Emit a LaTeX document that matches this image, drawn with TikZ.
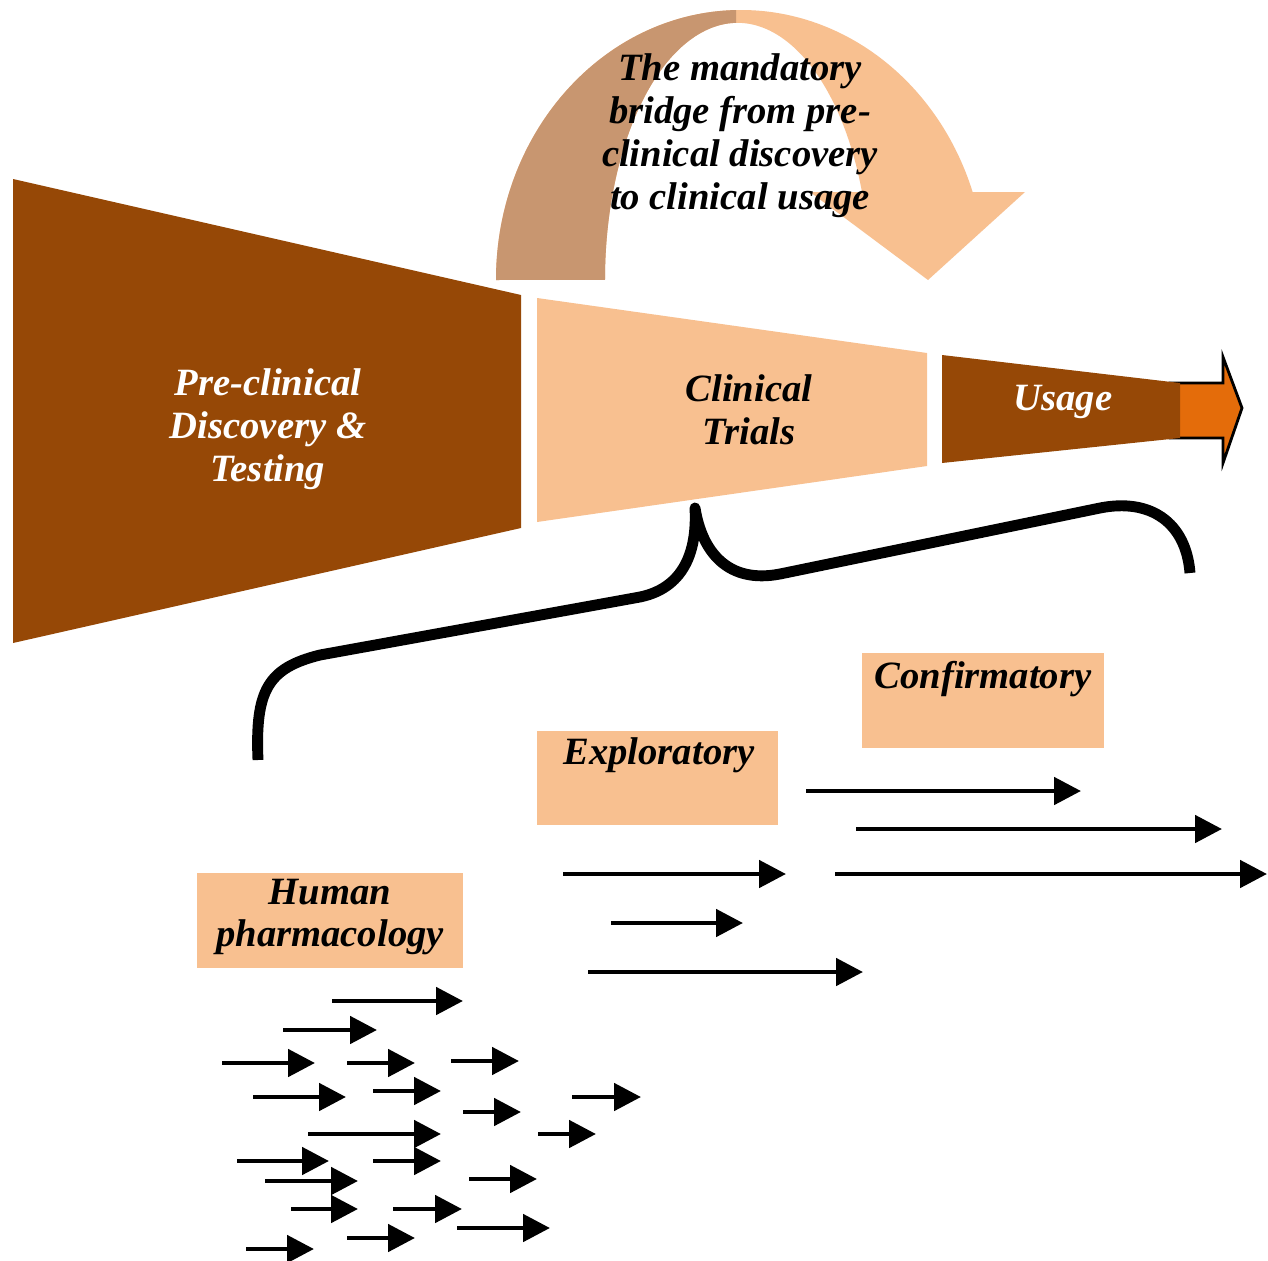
\documentclass[tikz,border=0pt]{standalone}
\usepackage{fontspec}
\setmainfont{Liberation Serif}
\usetikzlibrary{arrows.meta}
\definecolor{darkbrown}{RGB}{150,72,6}
\definecolor{peach}{RGB}{248,192,144}
\definecolor{tanbrown}{RGB}{200,150,112}
\definecolor{usageorange}{RGB}{228,108,10}
\begin{document}
\begin{tikzpicture}[x=0.02cm,y=-0.02cm,
  lbl/.style={font=\fontsize{22}{24.4}\selectfont\bfseries\itshape, align=center, inner sep=0pt},
  wlbl/.style={lbl, text=white},
  phasebox/.style={fill=peach, draw=none, inner sep=0pt},
  arr/.style={line width=2.8pt, -{Triangle[length=0.54cm,width=0.54cm]}},
  brace/.style={line width=6.2pt, line join=round}]
\useasboundingbox (0,0) rectangle (1268,1261);
\fill[white] (0,0) rectangle (1268,1261);

% bridge arrow
\path[fill=peach] (496,280) arc[start angle=180,end angle=341,x radius=245,y radius=270]
  -- (1025,192) -- (928,280) -- (810,192) -- (862,192)
  arc[start angle=340,end angle=180,x radius=132.5,y radius=257] -- cycle;
\begin{scope}
\clip (400,0) rectangle (736,300);
\path[fill=tanbrown] (496,280) arc[start angle=180,end angle=341,x radius=245,y radius=270]
  -- (1025,192) -- (928,280) -- (810,192) -- (862,192)
  arc[start angle=340,end angle=180,x radius=132.5,y radius=257] -- cycle;
\end{scope}
\node[lbl] (bridge) at (740,136) {The mandatory\\bridge from pre-\\clinical discovery\\to clinical usage};

% usage arrow
\draw[fill=usageorange, line width=1.6pt, line join=miter] (1170,383) -- (1223,383) -- (1223,357) -- (1242,408) -- (1223,463) -- (1223,438) -- (1170,438) -- cycle;

% funnel parts
\fill[darkbrown] (13,179) -- (521,295) -- (521,528) -- (13,643) -- cycle;
\fill[peach] (537,298) -- (927,353) -- (927,466) -- (537,522) -- cycle;
\fill[darkbrown] (942,355) -- (1180,383) -- (1180,438) -- (942,463) -- cycle;
\node[wlbl] (pre) at (268,429) {Pre-clinical\\Discovery \&\\Testing};
\node[lbl] (clin) at (749,410) {Clinical\\Trials};
\node[wlbl] (usage) at (1063,402) {Usage};

% brace
\draw[brace] (258,760) .. controls (255,690) and (268,668) .. (320,655)
  -- (640,597) .. controls (688,587) and (697,545) .. (695,508)
  .. controls (702,552) and (728,584) .. (780,574)
  -- (1100,508) .. controls (1150,498) and (1186,522) .. (1190,573);

% phase boxes
\node[phasebox, minimum width=4.84cm, minimum height=1.9cm] (confbox) at (983,700.5) {};
\node[lbl] (conf) at (983,679) {Confirmatory};
\node[phasebox, minimum width=4.82cm, minimum height=1.88cm] (explbox) at (657.5,778) {};
\node[lbl] (expl) at (659,755) {Exploratory};
\node[phasebox, minimum width=5.32cm, minimum height=1.9cm] (humbox) at (330,920.5) {};
\node[lbl] (hum) at (330,917) {Human\\pharmacology};

% arrows
\foreach \i/\a/\b/\y in {
  1/806/1081/791, 2/856/1222/829, 3/835/1267/874, 4/563/786/874, 5/611/743/923, 6/588/863/972,
  7/332/463/1001, 8/283/377/1030, 9/222/315/1063, 10/347/415/1063, 11/451/519/1061,
  12/253/346/1097, 13/373/441/1091, 14/572/641/1097, 15/463/521/1112, 16/308/441/1134,
  17/538/596/1134, 18/237/329/1161, 19/373/441/1161, 20/265/358/1181, 21/469/537/1179,
  22/291/358/1209, 23/393/462/1209, 24/457/550/1228, 25/347/415/1238, 26/246/314/1249}{
  \coordinate (s\i) at (\a,\y);
  \coordinate (e\i) at (\b,\y);
  \draw[arr] (s\i) -- (e\i);
}
\end{tikzpicture}
\end{document}
